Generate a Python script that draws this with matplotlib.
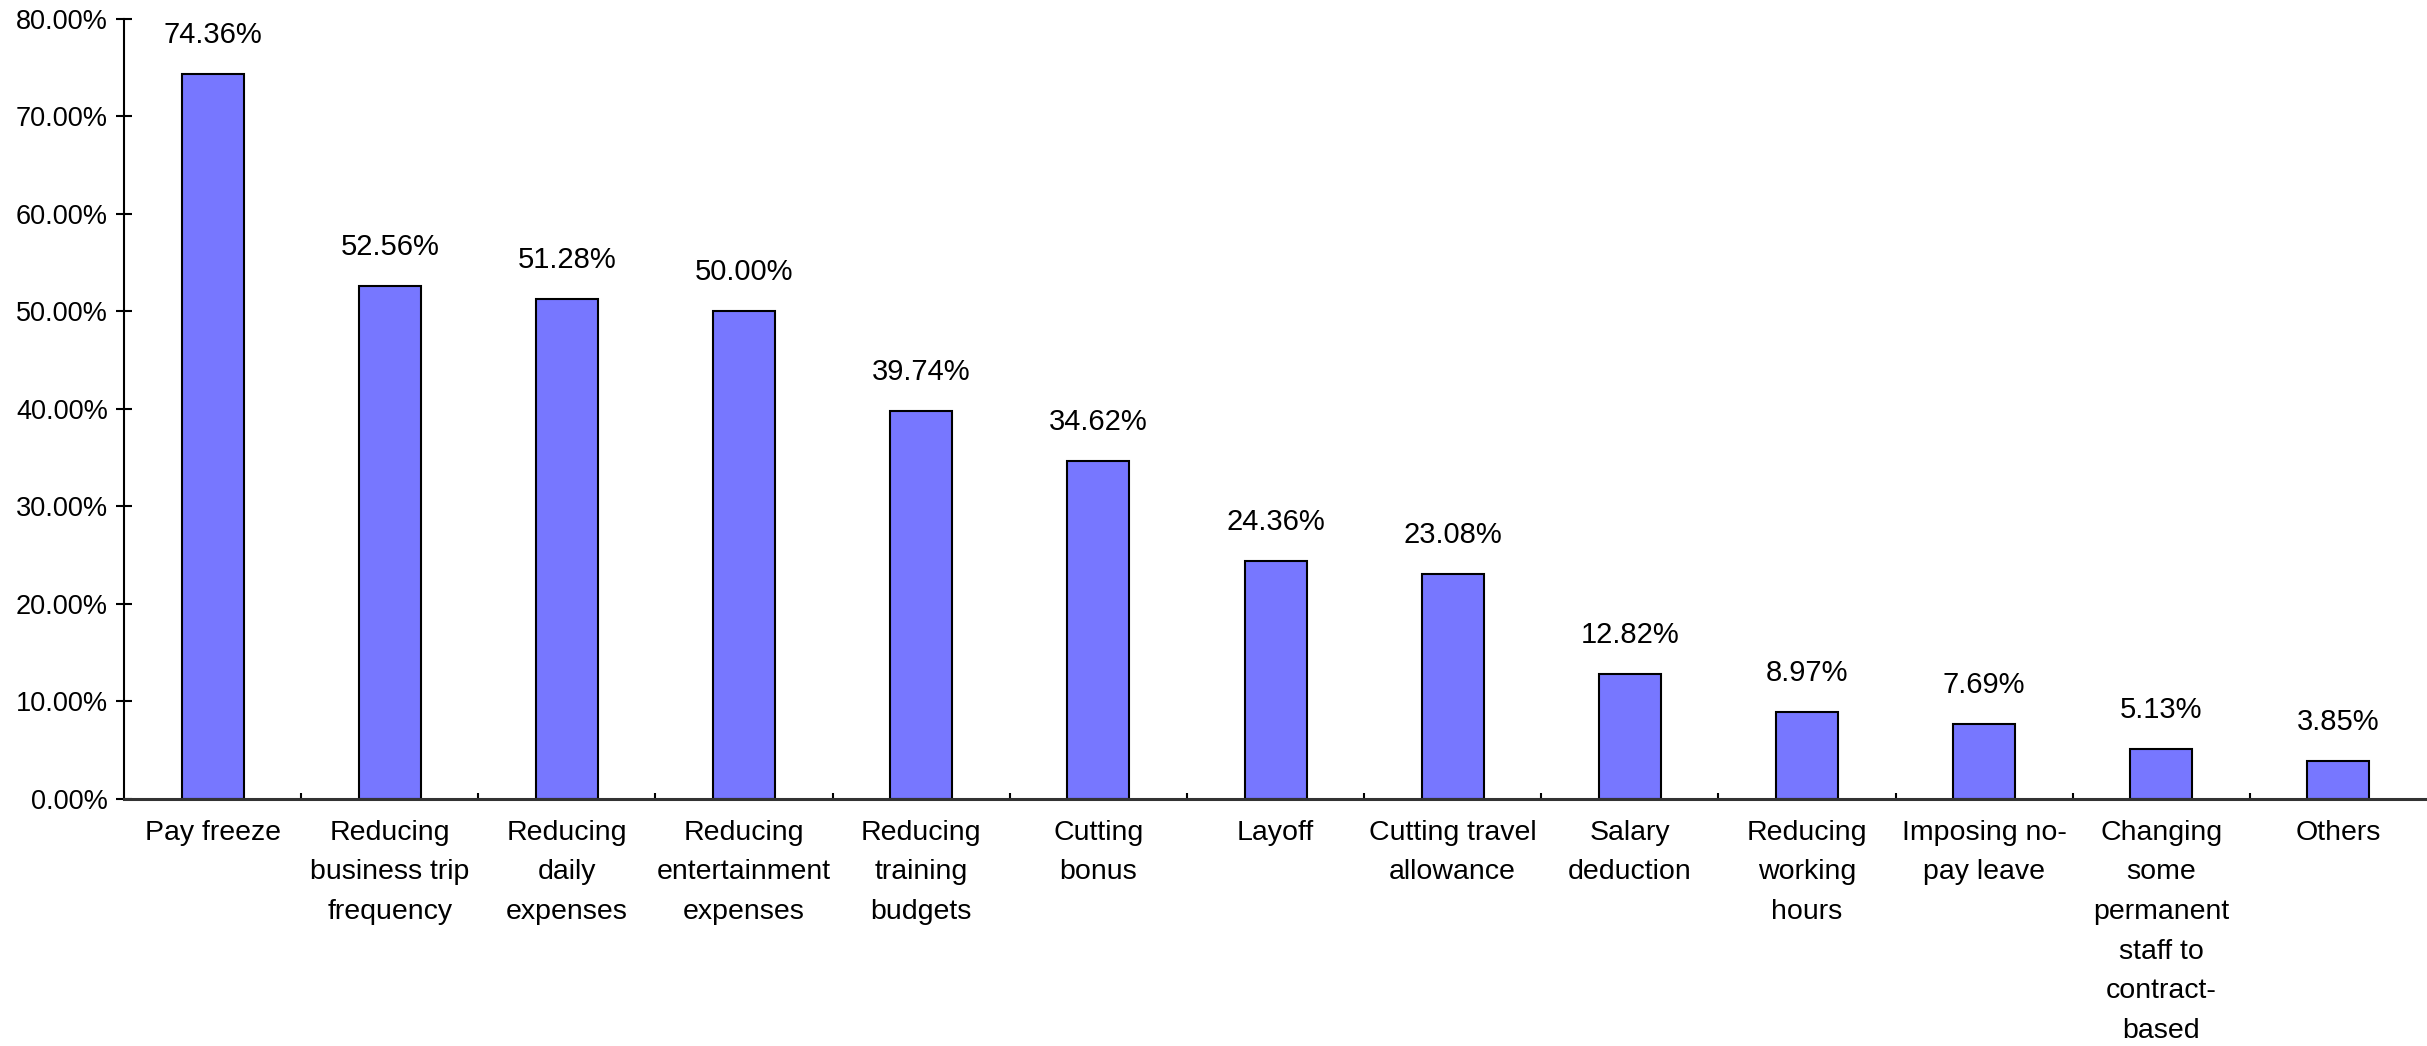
import matplotlib
matplotlib.use("Agg")
import matplotlib.pyplot as plt
from matplotlib.ticker import FuncFormatter, MultipleLocator, FixedLocator

plt.rcParams['font.family'] = ['Liberation Sans', 'DejaVu Sans']

# Cost-cutting measures and share of respondents (%)
measures = [
    "Pay freeze",
    "Reducing\nbusiness trip\nfrequency",
    "Reducing\ndaily\nexpenses",
    "Reducing\nentertainment\nexpenses",
    "Reducing\ntraining\nbudgets",
    "Cutting\nbonus",
    "Layoff",
    "Cutting travel\nallowance",
    "Salary\ndeduction",
    "Reducing\nworking\nhours",
    "Imposing no-\npay leave",
    "Changing\nsome\npermanent\nstaff to\ncontract-\nbased",
    "Others",
]
shares = [74.36, 52.56, 51.28, 50.00, 39.74, 34.62, 24.36, 23.08, 12.82, 8.97, 7.69, 5.13, 3.85]

fig = plt.figure(figsize=(24.27, 10.46), dpi=100)
ax = fig.add_axes([0.0511, 0.2361, 0.9489, 0.7461])

x = range(len(measures))
bars = ax.bar(x, shares, width=0.35, color='#7777ff', edgecolor='black', linewidth=1.5)

for b, v in zip(bars, shares):
    ax.annotate(f"{v:.2f}%", (b.get_x() + b.get_width() / 2, v),
                xytext=(0, 18), textcoords='offset points',
                ha='center', va='bottom', fontsize=21)

ax.set_xlim(-0.5, len(measures) - 0.5)
ax.set_ylim(0, 80)
ax.yaxis.set_major_locator(MultipleLocator(10))
ax.yaxis.set_major_formatter(FuncFormatter(lambda v, p: f"{v:.2f}%"))

# category labels centred under bars, tick marks on the boundaries
ax.set_xticks(list(x))
ax.set_xticklabels(measures, fontsize=20.5, linespacing=1.68, va='top')
ax.tick_params(axis='x', which='major', length=0, pad=15)
ax.xaxis.set_minor_locator(FixedLocator([i + 0.5 for i in range(len(measures) - 1)]))
ax.tick_params(axis='x', which='minor', direction='in', length=4, width=1.5)

ax.tick_params(axis='y', direction='inout', length=11, width=1.5, labelsize=19.5, pad=6)

for s in ['top', 'right']:
    ax.spines[s].set_visible(False)
ax.spines['left'].set_linewidth(1.5)
ax.spines['bottom'].set_linewidth(2.2)
ax.spines['bottom'].set_color('#333333')

fig.savefig("out.png", dpi=100)
